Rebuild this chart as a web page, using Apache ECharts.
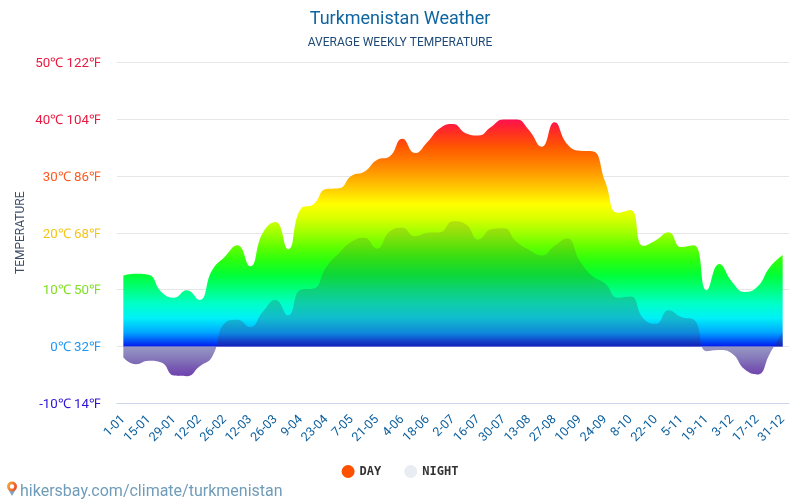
<!DOCTYPE html>
<html>
<head>
<meta charset="utf-8">
<title>Turkmenistan Weather</title>
<script src="https://cdn.jsdelivr.net/npm/echarts@6/dist/echarts.min.js"></script>
<style>
  html, body { margin: 0; padding: 0; background: #fff; }
  #chart { width: 800px; height: 500px; }
</style>
</head>
<body>
<div id="chart"></div>
<script>
'use strict';

// week labels, one per week (every second one is printed on the axis)
const weeks = ['1-01', '8-01', '15-01', '22-01', '29-01', '5-02', '12-02', '19-02', '26-02', '5-03', '12-03', '19-03', '26-03',
  '2-04', '9-04', '16-04', '23-04', '30-04', '7-05', '14-05', '21-05', '28-05', '4-06', '11-06', '18-06', '25-06',
  '2-07', '9-07', '16-07', '23-07', '30-07', '6-08', '13-08', '20-08', '27-08', '3-09', '10-09', '17-09', '24-09',
  '1-10', '8-10', '15-10', '22-10', '29-10', '5-11', '12-11', '19-11', '26-11', '3-12', '10-12', '17-12', '24-12', '31-12'];

const dayTemps = [12.5, 12.8, 12.6, 9.6, 8.6, 9.9, 8.2, 13.4, 15.8, 17.8, 14.1, 20, 21.9,
  17.1, 24.2, 25, 27.7, 27.8, 30, 30.7, 32.8, 33.4, 36.5, 34, 36, 38.4,
  39.1, 37.5, 37.1, 38.6, 39.9, 39.9, 38, 35.1, 39.4, 35.6, 34.4, 34.3, 29,
  23.5, 24, 17.7, 18.7, 20.1, 17.5, 17.8, 9.9, 14.5, 11.4, 9.6, 10.5, 14, 16.1];

const nightTemps = [-1.9, -3.1, -2.5, -2.8, -5.1, -5.2, -3.5, -1.8, 4.1, 4.7, 3.4, 6.1, 8.2,
  5.5, 10, 10.2, 14, 16.4, 18.4, 19.1, 17.2, 20.2, 20.9, 19.4, 20, 20.1,
  22, 21.5, 18.8, 20.6, 20.8, 18.4, 17, 16, 17.7, 19, 15.1, 12.4, 11.1,
  8.6, 8.8, 5, 4, 6.4, 5.2, 4.7, -0.8, -0.6, -1.2, -4, -4.9, -1.2, 2.6];

const tickLabels = { '50': '50℃ 122℉', '40': '40℃ 104℉', '30': '30℃ 86℉', '20': '20℃ 68℉', '10': '10℃ 50℉', '0': '0℃ 32℉', '-10': '-10℃ 14℉' };
const tickColors = { '50': '#e8193f', '40': '#e8193f', '30': '#ff5a1f', '20': '#f6c515', '10': '#7fe01f', '0': '#2196f3', '-10': '#2a12d6' };

// temperature ramp, 0 to 40 in steps of 2.5
const dayRamp = ['#0018f0', '#00a8ff', '#00f0f8', '#00ffc8', '#00ff80', '#00ff38', '#28ff10', '#60ff00', '#a0ff00',
  '#d8ff00', '#ffff00', '#ffd000', '#ffa400', '#ff7c00', '#ff5800', '#ff3020', '#ff0f50'];
// night overlay, -6 to 24 in steps of 2
const nightRamp = ['rgba(85,30,160,0.88)', 'rgba(80,35,155,0.78)', 'rgba(60,40,145,0.62)', 'rgba(40,40,130,0.48)',
  'rgba(60,50,110,0.24)', 'rgba(60,50,100,0.28)', 'rgba(60,50,90,0.26)', 'rgba(60,50,80,0.24)', 'rgba(60,50,80,0.22)',
  'rgba(60,50,70,0.20)', 'rgba(60,50,70,0.18)', 'rgba(60,50,70,0.16)', 'rgba(60,50,70,0.15)', 'rgba(60,50,70,0.15)',
  'rgba(60,50,70,0.15)', 'rgba(60,50,70,0.15)'];

const chart = echarts.init(document.getElementById('chart'), null, { renderer: 'canvas' });

const font = 'Roboto';

chart.setOption({
  animation: false,
  backgroundColor: '#fff',
  title: [
    { text: 'Turkmenistan Weather', left: 'center', top: 5, textStyle: { fontFamily: font, fontSize: 18, fontWeight: 'normal', color: '#0f65a0' } },
    { text: 'AVERAGE WEEKLY TEMPERATURE', left: 'center', top: 32, textStyle: { fontFamily: font, fontSize: 12, fontWeight: 'normal', color: '#1f4a78' } }
  ],
  grid: { left: 117, right: 11, top: 62, bottom: 96.5 },
  legend: {
    left: 'center', top: 460, itemWidth: 13, itemHeight: 13, itemGap: 23, icon: 'circle',
    textStyle: { fontFamily: 'DejaVu Sans Mono', fontSize: 12, fontWeight: 'bold', color: '#333' },
    data: [
      { name: 'DAY', itemStyle: { color: '#ff5000' } },
      { name: 'NIGHT', itemStyle: { color: '#e8edf3' } }
    ]
  },
  visualMap: [
    { type: 'continuous', show: false, seriesIndex: 0, dimension: 1, min: 0, max: 40, inRange: { color: dayRamp }, outOfRange: { color: '#ff0f50' } },
    { type: 'continuous', show: false, seriesIndex: 1, dimension: 1, min: -6, max: 24, inRange: { color: nightRamp }, outOfRange: { color: 'rgba(85,30,160,0.88)' } }
  ],
  xAxis: {
    type: 'category',
    data: weeks,
    boundaryGap: true,
    axisLine: { onZero: false, lineStyle: { color: '#ccd6eb' } },
    axisTick: { alignWithLabel: true, interval: 1, length: 10, lineStyle: { color: '#ccd6eb' } },
    axisLabel: { interval: 1, rotate: 45, margin: 14, fontFamily: font, fontSize: 12.5, color: '#0b5f9e' },
    splitLine: { show: false }
  },
  yAxis: {
    type: 'value', min: -10, max: 50, interval: 10,
    name: 'TEMPERATURE', nameLocation: 'middle', nameGap: 90, nameRotate: 90, nameMoveOverlap: false,
    nameTextStyle: { fontFamily: font, fontSize: 12, color: '#3f4f68' },
    axisLine: { show: false },
    axisTick: { show: false },
    axisLabel: {
      margin: 16, fontFamily: font, fontSize: 13.3,
      formatter: (v) => '{t|' + tickLabels[v] + '}',
      rich: { t: { padding: [3, 0, 0, 0] } },
      color: (v) => tickColors[v]
    },
    splitLine: { lineStyle: { color: '#e6e6e6' } }
  },
  series: [
    { name: 'DAY', type: 'line', data: dayTemps, smooth: true, showSymbol: false, lineStyle: { width: 0 }, areaStyle: { opacity: 1 } },
    { name: 'NIGHT', type: 'line', data: nightTemps, smooth: true, showSymbol: false, lineStyle: { width: 0 }, areaStyle: { opacity: 1 } }
  ],
  graphic: [
    { type: 'text', left: 20, top: 484, style: { text: 'hikersbay.com/climate/turkmenistan', font: '16px Roboto', fill: '#6f9cb8' } },
    { type: 'polygon', shape: { points: [[8, 489], [16, 489], [12, 496]] }, style: { fill: '#7aa6c0' } },
    { type: 'ring', shape: { cx: 12, cy: 486.5, r: 5, r0: 2.2 }, style: {
      fill: new echarts.graphic.LinearGradient(0, 0, 1, 0.4, [{ offset: 0, color: '#f5b63c' }, { offset: 1, color: '#ee4f2a' }]) } }
  ]
});
</script>
</body>
</html>
